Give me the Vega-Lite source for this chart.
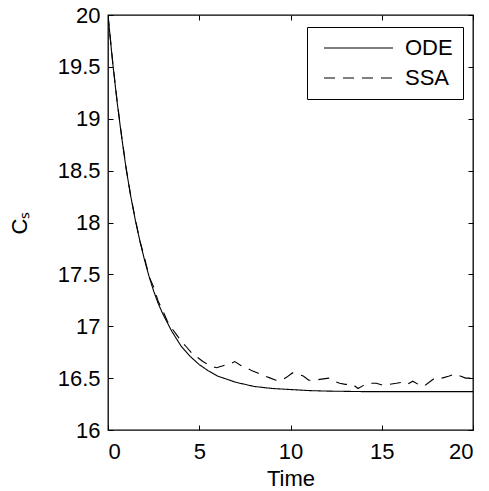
{
  "$schema": "https://vega.github.io/schema/vega-lite/v6.json",
  "autosize": "none",
  "width": 365,
  "height": 415,
  "padding": {"left": 108, "top": 15, "right": 16, "bottom": 61},
  "background": "white",
  "config": {
    "font": "Liberation Sans",
    "view": {"stroke": "black", "strokeWidth": 1.3},
    "axis": {
      "domain": false,
      "grid": false,
      "tickColor": "black",
      "tickSize": -5,
      "tickWidth": 1,
      "labelFont": "Liberation Sans",
      "labelFontSize": 22,
      "labelColor": "black",
      "titleFont": "Liberation Sans",
      "titleFontSize": 22,
      "titleFontWeight": "normal",
      "titleColor": "black"
    }
  },
  "data": {
    "values": [
      {"t": 0, "v": 20, "series": "ODE"},
      {"t": 0.25, "v": 19.55, "series": "ODE"},
      {"t": 0.5, "v": 19.16, "series": "ODE"},
      {"t": 0.75, "v": 18.82, "series": "ODE"},
      {"t": 1, "v": 18.51, "series": "ODE"},
      {"t": 1.25, "v": 18.25, "series": "ODE"},
      {"t": 1.5, "v": 18.02, "series": "ODE"},
      {"t": 1.75, "v": 17.82, "series": "ODE"},
      {"t": 2, "v": 17.64, "series": "ODE"},
      {"t": 2.25, "v": 17.48, "series": "ODE"},
      {"t": 2.5, "v": 17.34, "series": "ODE"},
      {"t": 2.75, "v": 17.22, "series": "ODE"},
      {"t": 3, "v": 17.12, "series": "ODE"},
      {"t": 3.5, "v": 16.95, "series": "ODE"},
      {"t": 4, "v": 16.81, "series": "ODE"},
      {"t": 4.5, "v": 16.71, "series": "ODE"},
      {"t": 5, "v": 16.63, "series": "ODE"},
      {"t": 5.5, "v": 16.57, "series": "ODE"},
      {"t": 6, "v": 16.52, "series": "ODE"},
      {"t": 7, "v": 16.46, "series": "ODE"},
      {"t": 8, "v": 16.42, "series": "ODE"},
      {"t": 9, "v": 16.40, "series": "ODE"},
      {"t": 10, "v": 16.39, "series": "ODE"},
      {"t": 11, "v": 16.38, "series": "ODE"},
      {"t": 12, "v": 16.375, "series": "ODE"},
      {"t": 14, "v": 16.37, "series": "ODE"},
      {"t": 20, "v": 16.37, "series": "ODE"},
      {"t": 0, "v": 20, "series": "SSA"},
      {"t": 0.25, "v": 19.56, "series": "SSA"},
      {"t": 0.5, "v": 19.17, "series": "SSA"},
      {"t": 0.75, "v": 18.83, "series": "SSA"},
      {"t": 1.0, "v": 18.52, "series": "SSA"},
      {"t": 1.25, "v": 18.25, "series": "SSA"},
      {"t": 1.5, "v": 18.03, "series": "SSA"},
      {"t": 1.75, "v": 17.82, "series": "SSA"},
      {"t": 2.0, "v": 17.66, "series": "SSA"},
      {"t": 2.25, "v": 17.48, "series": "SSA"},
      {"t": 2.5, "v": 17.38, "series": "SSA"},
      {"t": 2.75, "v": 17.24, "series": "SSA"},
      {"t": 3.0, "v": 17.15, "series": "SSA"},
      {"t": 3.25, "v": 17.05, "series": "SSA"},
      {"t": 3.5, "v": 16.98, "series": "SSA"},
      {"t": 3.75, "v": 16.92, "series": "SSA"},
      {"t": 4.0, "v": 16.86, "series": "SSA"},
      {"t": 4.3, "v": 16.80, "series": "SSA"},
      {"t": 4.6, "v": 16.74, "series": "SSA"},
      {"t": 4.9, "v": 16.70, "series": "SSA"},
      {"t": 5.2, "v": 16.66, "series": "SSA"},
      {"t": 5.6, "v": 16.62, "series": "SSA"},
      {"t": 5.95, "v": 16.60, "series": "SSA"},
      {"t": 6.3, "v": 16.62, "series": "SSA"},
      {"t": 6.6, "v": 16.63, "series": "SSA"},
      {"t": 6.95, "v": 16.66, "series": "SSA"},
      {"t": 7.3, "v": 16.62, "series": "SSA"},
      {"t": 7.6, "v": 16.60, "series": "SSA"},
      {"t": 7.9, "v": 16.57, "series": "SSA"},
      {"t": 8.2, "v": 16.55, "series": "SSA"},
      {"t": 8.6, "v": 16.52, "series": "SSA"},
      {"t": 8.9, "v": 16.50, "series": "SSA"},
      {"t": 9.2, "v": 16.48, "series": "SSA"},
      {"t": 9.5, "v": 16.48, "series": "SSA"},
      {"t": 9.8, "v": 16.51, "series": "SSA"},
      {"t": 10.1, "v": 16.55, "series": "SSA"},
      {"t": 10.4, "v": 16.54, "series": "SSA"},
      {"t": 10.7, "v": 16.52, "series": "SSA"},
      {"t": 11.0, "v": 16.48, "series": "SSA"},
      {"t": 11.3, "v": 16.48, "series": "SSA"},
      {"t": 11.7, "v": 16.49, "series": "SSA"},
      {"t": 12.1, "v": 16.50, "series": "SSA"},
      {"t": 12.4, "v": 16.47, "series": "SSA"},
      {"t": 12.7, "v": 16.45, "series": "SSA"},
      {"t": 13.0, "v": 16.44, "series": "SSA"},
      {"t": 13.4, "v": 16.44, "series": "SSA"},
      {"t": 13.7, "v": 16.40, "series": "SSA"},
      {"t": 14.0, "v": 16.43, "series": "SSA"},
      {"t": 14.3, "v": 16.45, "series": "SSA"},
      {"t": 14.7, "v": 16.45, "series": "SSA"},
      {"t": 15.1, "v": 16.43, "series": "SSA"},
      {"t": 15.4, "v": 16.44, "series": "SSA"},
      {"t": 15.8, "v": 16.45, "series": "SSA"},
      {"t": 16.1, "v": 16.46, "series": "SSA"},
      {"t": 16.4, "v": 16.44, "series": "SSA"},
      {"t": 16.7, "v": 16.47, "series": "SSA"},
      {"t": 17.0, "v": 16.44, "series": "SSA"},
      {"t": 17.3, "v": 16.42, "series": "SSA"},
      {"t": 17.6, "v": 16.46, "series": "SSA"},
      {"t": 17.9, "v": 16.50, "series": "SSA"},
      {"t": 18.3, "v": 16.50, "series": "SSA"},
      {"t": 18.7, "v": 16.52, "series": "SSA"},
      {"t": 19.0, "v": 16.54, "series": "SSA"},
      {"t": 19.3, "v": 16.52, "series": "SSA"},
      {"t": 19.6, "v": 16.50, "series": "SSA"},
      {"t": 19.9, "v": 16.50, "series": "SSA"}
    ]
  },
  "layer": [
    {
      "mark": {"type": "line", "color": "black", "strokeWidth": 1.1, "clip": true},
      "encoding": {
        "x": {"field": "t", "type": "quantitative", "scale": {"domain": [0, 20], "nice": false}, "axis": {"orient": "bottom", "values": [0, 5, 10, 15, 20], "format": "~g", "title": "Time", "labelPadding": 16, "titlePadding": 6}},
        "y": {"field": "v", "type": "quantitative", "scale": {"domain": [16, 20], "nice": false, "zero": false}, "axis": {"orient": "left", "values": [16, 16.5, 17, 17.5, 18, 18.5, 19, 19.5, 20], "format": "~g", "title": "Cₛ", "labelPadding": 13, "titlePadding": 26}},
        "strokeDash": {
          "field": "series",
          "type": "nominal",
          "scale": {"domain": ["ODE", "SSA"], "range": [[1, 0], [11, 8]]},
          "legend": {
            "title": null,
            "orient": "none",
            "legendX": 199,
            "legendY": 12,
            "strokeColor": "black",
            "fillColor": "white",
            "padding": 10,
            "symbolType": "stroke",
            "symbolSize": 4761,
            "symbolOffset": 6,
            "clipHeight": 22,
            "symbolStrokeColor": "black",
            "symbolStrokeWidth": 1.1,
            "labelFont": "Liberation Sans",
            "labelFontSize": 22,
            "labelColor": "black",
            "labelOffset": 11,
            "labelExpr": "datum.label + '  '",
            "rowPadding": 8
          }
        }
      }
    },
    {
      "mark": {"type": "line", "opacity": 0},
      "encoding": {
        "x": {"field": "t", "type": "quantitative", "axis": {"orient": "top", "values": [0, 5, 10, 15, 20], "labels": false, "title": null}},
        "y": {"field": "v", "type": "quantitative", "axis": {"orient": "right", "values": [16, 16.5, 17, 17.5, 18, 18.5, 19, 19.5, 20], "labels": false, "title": null}}
      }
    }
  ],
  "resolve": {"axis": {"x": "independent", "y": "independent"}}
}
